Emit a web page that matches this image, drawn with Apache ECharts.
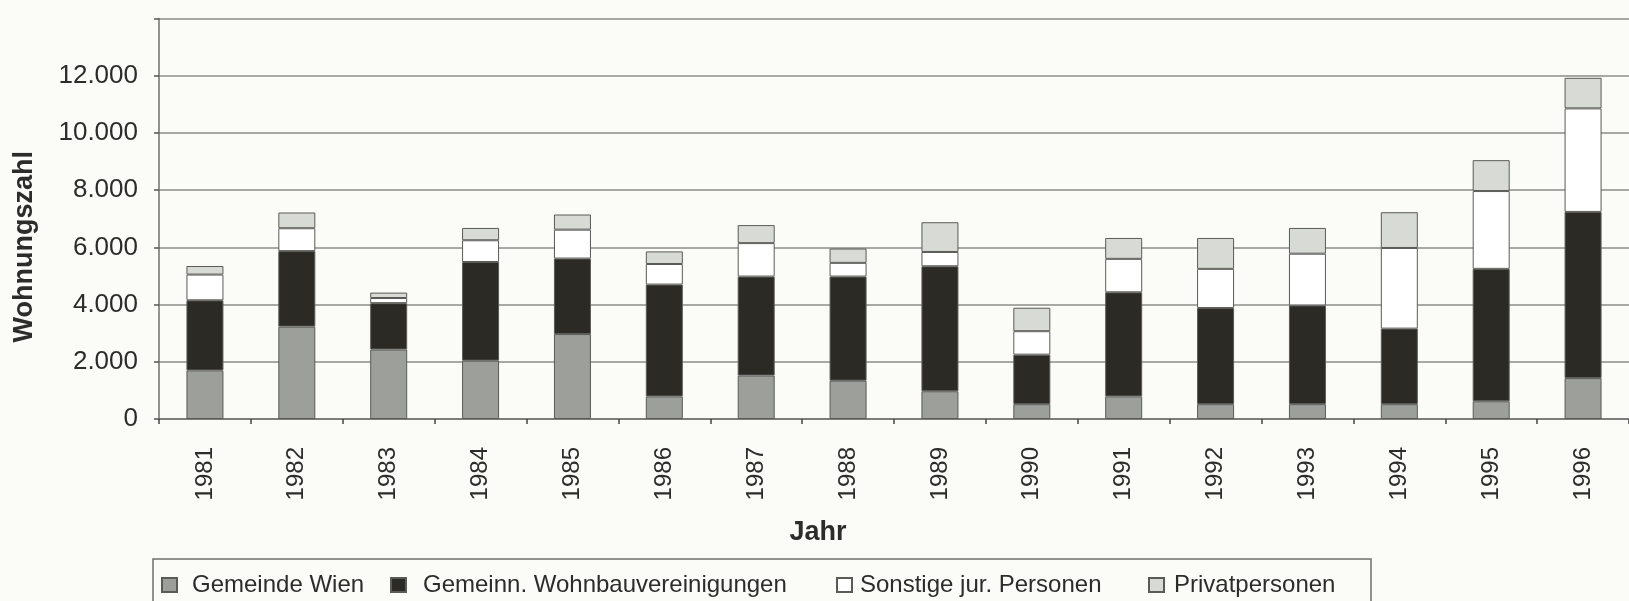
<!DOCTYPE html>
<html>
<head>
<meta charset="utf-8">
<script src="https://cdn.jsdelivr.net/npm/echarts@6/dist/echarts.min.js"></script>
<style>
  html, body { margin: 0; padding: 0; background: #fbfbf7; }
  #chart { width: 1629px; height: 601px; }
</style>
</head>
<body>
<div id="chart"></div>
<script>
// Jahre (Kategorien)
var years = ['1981', '1982', '1983', '1984', '1985', '1986', '1987', '1988',
             '1989', '1990', '1991', '1992', '1993', '1994', '1995', '1996'];

// Wohnungszahl je Bauträger
var gemeindeWien = [1700, 3230, 2430, 2040, 2970, 790, 1520, 1340, 970, 520, 790, 520, 520, 520, 620, 1430];
var gemeinnuetzige = [2450, 2640, 1620, 3450, 2640, 3910, 3460, 3640, 4370, 1730, 3640, 3360, 3450, 2640, 4630, 5810];
var sonstigeJur = [900, 800, 180, 760, 1010, 720, 1170, 480, 500, 820, 1170, 1370, 1810, 2820, 2720, 3620];
var privatpersonen = [300, 550, 190, 430, 530, 440, 630, 500, 1040, 820, 730, 1080, 900, 1250, 1080, 1070];

var seriesNames = ['Gemeinde Wien', 'Gemeinn. Wohnbauvereinigungen', 'Sonstige jur. Personen', 'Privatpersonen'];
var seriesColors = ['#9c9f9a', '#2b2a25', '#ffffff', '#d8dbd5'];
var seriesData = [gemeindeWien, gemeinnuetzige, sonstigeJur, privatpersonen];

var font = 'Liberation Sans, Arial, Helvetica, sans-serif';
var textColor = '#2c2c2a';

var chart = echarts.init(document.getElementById('chart'));

function fmt(v) {
    if (v === 14000) return '';
    return String(v).replace(/\B(?=(\d{3})+(?!\d))/g, '.');
}

// legend positions (one legend per entry, like the original's uneven spacing)
var legendLeft = [161, 390, 836, 1148];
var legendTextPad = [10, 12, 3, 5];

var legends = seriesNames.map(function (name, i) {
    return {
        data: [name],
        left: legendLeft[i],
        top: 573,
        padding: 0,
        itemWidth: 15,
        itemHeight: 14,
        icon: 'rect',
        textStyle: {
            fontFamily: font,
            fontSize: 24,
            color: textColor,
            padding: [0, 0, 0, legendTextPad[i]]
        },
        selectedMode: false
    };
});

var option = {
    backgroundColor: '#fbfbf7',
    animation: false,
    textStyle: { fontFamily: font },
    grid: {
        left: 159,
        right: -10,
        top: 18.6,
        bottom: 182
    },
    legend: legends,
    graphic: [{
        type: 'rect',
        shape: { x: 153, y: 559, width: 1218, height: 60 },
        style: { fill: null, stroke: '#6f6f6c', lineWidth: 1.5 },
        silent: true
    }],
    xAxis: {
        type: 'category',
        data: years,
        name: 'Jahr',
        nameLocation: 'middle',
        nameGap: 100,
        nameTextStyle: {
            fontFamily: font,
            fontSize: 27,
            fontWeight: 'bold',
            color: textColor,
            padding: [0, 152, 0, 0]
        },
        axisLine: { lineStyle: { color: '#6f6f6c', width: 1.5 } },
        axisTick: { show: true, length: 5, lineStyle: { color: '#444', width: 1.5 } },
        axisLabel: {
            rotate: 90,
            margin: 28,
            fontFamily: font,
            fontSize: 24,
            color: textColor
        }
    },
    yAxis: {
        type: 'value',
        min: 0,
        max: 14000,
        interval: 2000,
        name: 'Wohnungszahl',
        nameLocation: 'middle',
        nameGap: 121,
        nameTextStyle: {
            fontFamily: font,
            fontSize: 27,
            fontWeight: 'bold',
            color: textColor,
            padding: [0, 56, 0, 0]
        },
        axisLine: { show: true, lineStyle: { color: '#6f6f6c', width: 1.5 } },
        axisTick: { show: true, length: 5, lineStyle: { color: '#555', width: 1.5 } },
        axisLabel: {
            formatter: fmt,
            margin: 21,
            fontFamily: font,
            fontSize: 26,
            color: textColor
        },
        splitLine: { lineStyle: { color: '#8d8d8a', width: 1.5 } }
    },
    series: seriesNames.map(function (name, i) {
        return {
            name: name,
            type: 'bar',
            stack: 'total',
            barWidth: 37,
            data: seriesData[i],
            itemStyle: {
                color: seriesColors[i],
                borderColor: '#5a5a57',
                borderWidth: 1
            }
        };
    })
};

chart.setOption(option);
</script>
</body>
</html>
